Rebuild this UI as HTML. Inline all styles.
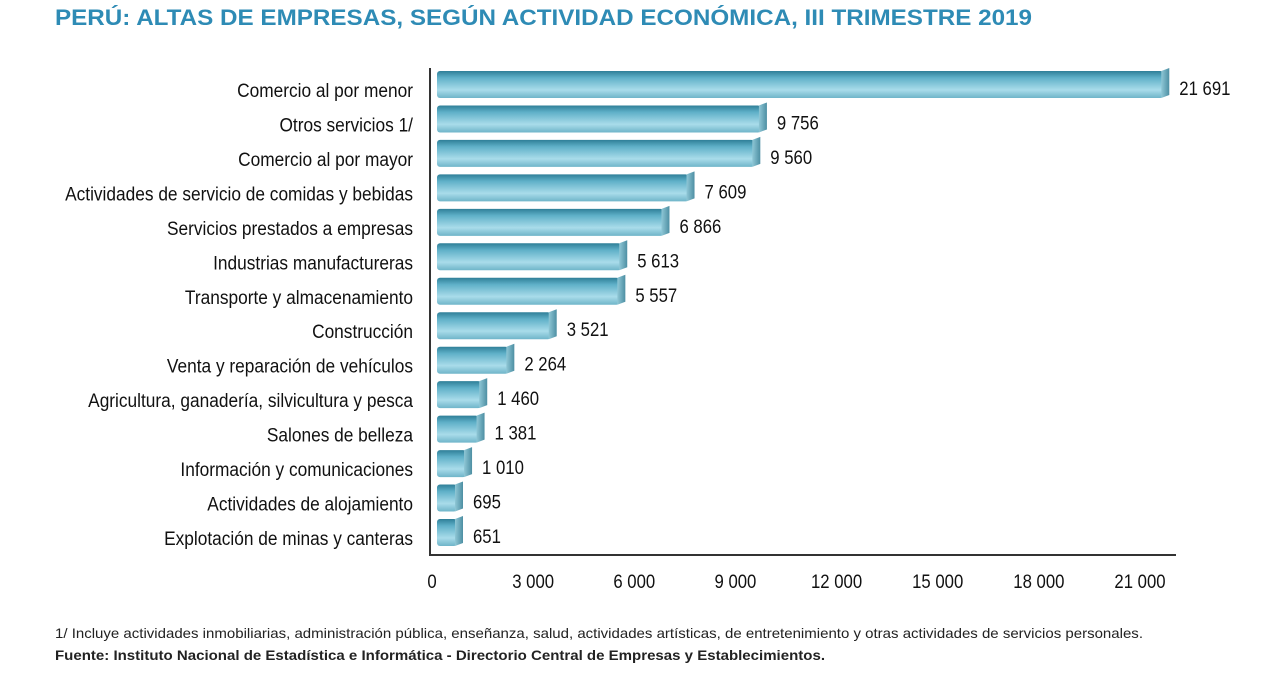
<!DOCTYPE html>
<html><head><meta charset="utf-8"><style>
body{margin:0;background:#fff;width:1268px;height:677px;overflow:hidden;font-family:"Liberation Sans",sans-serif}
</style></head><body>
<svg width="1268" height="677">
<defs>
<linearGradient id="g" x1="0" y1="0" x2="0" y2="1">
<stop offset="0" stop-color="#2f7f98"/><stop offset="0.25" stop-color="#5fb0c8"/>
<stop offset="0.7" stop-color="#a9dcea"/><stop offset="1" stop-color="#6fb5c9"/></linearGradient>
<linearGradient id="e" x1="0" y1="0" x2="1" y2="0">
<stop offset="0" stop-color="#8fc7d6"/><stop offset="1" stop-color="#4d8fa3"/></linearGradient>
</defs>
<text x="55" y="25" font-size="22" font-weight="bold" fill="#2e8bb5" textLength="977" lengthAdjust="spacingAndGlyphs">PERÚ: ALTAS DE EMPRESAS, SEGÚN ACTIVIDAD ECONÓMICA, III TRIMESTRE 2019</text>
<g id="bars"></g>
<line x1="430" y1="68" x2="430" y2="556" stroke="#333" stroke-width="2"/>
<line x1="429" y1="555" x2="1176" y2="555" stroke="#333" stroke-width="2"/>
<g id="ticks"></g>
<text x="55" y="638" font-size="14" fill="#222" textLength="1088" lengthAdjust="spacingAndGlyphs">1/ Incluye actividades inmobiliarias, administración pública, enseñanza, salud, actividades artísticas, de entretenimiento y otras actividades de servicios personales.</text>
<text x="55" y="660" font-size="14" font-weight="bold" fill="#222" textLength="770" lengthAdjust="spacingAndGlyphs">Fuente: Instituto Nacional de Estadística e Informática - Directorio Central de Empresas y Establecimientos.</text>
</svg>
<script>
const categories=["Comercio al por menor","Otros servicios 1/","Comercio al por mayor","Actividades de servicio de comidas y bebidas","Servicios prestados a empresas","Industrias manufactureras","Transporte y almacenamiento","Construcción","Venta y reparación de vehículos","Agricultura, ganadería, silvicultura y pesca","Salones de belleza","Información y comunicaciones","Actividades de alojamiento","Explotación de minas y canteras"];
const values=[21691,9756,9560,7609,6866,5613,5557,3521,2264,1460,1381,1010,695,651];
const valueLabels=["21 691","9 756","9 560","7 609","6 866","5 613","5 557","3 521","2 264","1 460","1 381","1 010","695","651"];
const ticks=[0,3000,6000,9000,12000,15000,18000,21000];
const tickLabels=["0","3 000","6 000","9 000","12 000","15 000","18 000","21 000"];
const NS="http://www.w3.org/2000/svg";
const x=v=>432+v*(1140-432)/21000;
const y=i=>85+i*(533-85)/13;
const bars=document.getElementById('bars'),tk=document.getElementById('ticks');
function mk(tag,a,p){const e=document.createElementNS(NS,tag);for(const k in a)e.setAttribute(k,a[k]);p.appendChild(e);return e;}
function squeeze(t,f){const w=t.getComputedTextLength();t.setAttribute('textLength',w*f);t.setAttribute('lengthAdjust','spacingAndGlyphs');}
categories.forEach((c,i)=>{
 const cy=y(i),x0=437,x1=Math.max(x(values[i]),x0+20);
 const r=mk('rect',{x:x0,y:cy-14,width:x1-x0,height:27,rx:3,fill:'url(#g)'},bars);
 
 
 const e=mk('path',{d:`M${x1-2} ${cy-14} L${x1+6} ${cy-17} L${x1+6} ${cy+10} L${x1-2} ${cy+13} Z`,fill:'url(#e)'},bars);
 
 
 const t=mk('text',{x:413,y:cy+12,'text-anchor':'end','font-size':19,fill:'#111'},bars);t.textContent=c;
 
 
 squeeze(t,0.91);
 const v=mk('text',{x:x1+16,y:cy+10,'font-size':19,fill:'#111'},bars);v.textContent=valueLabels[i];
 
 
 squeeze(v,0.88);
});
ticks.forEach((t,i)=>{
 const l=mk('text',{x:x(t),y:588,'text-anchor':'middle','font-size':19,fill:'#111'},tk);l.textContent=tickLabels[i];
 
 
 squeeze(l,0.88);
});
</script>
</body></html>
